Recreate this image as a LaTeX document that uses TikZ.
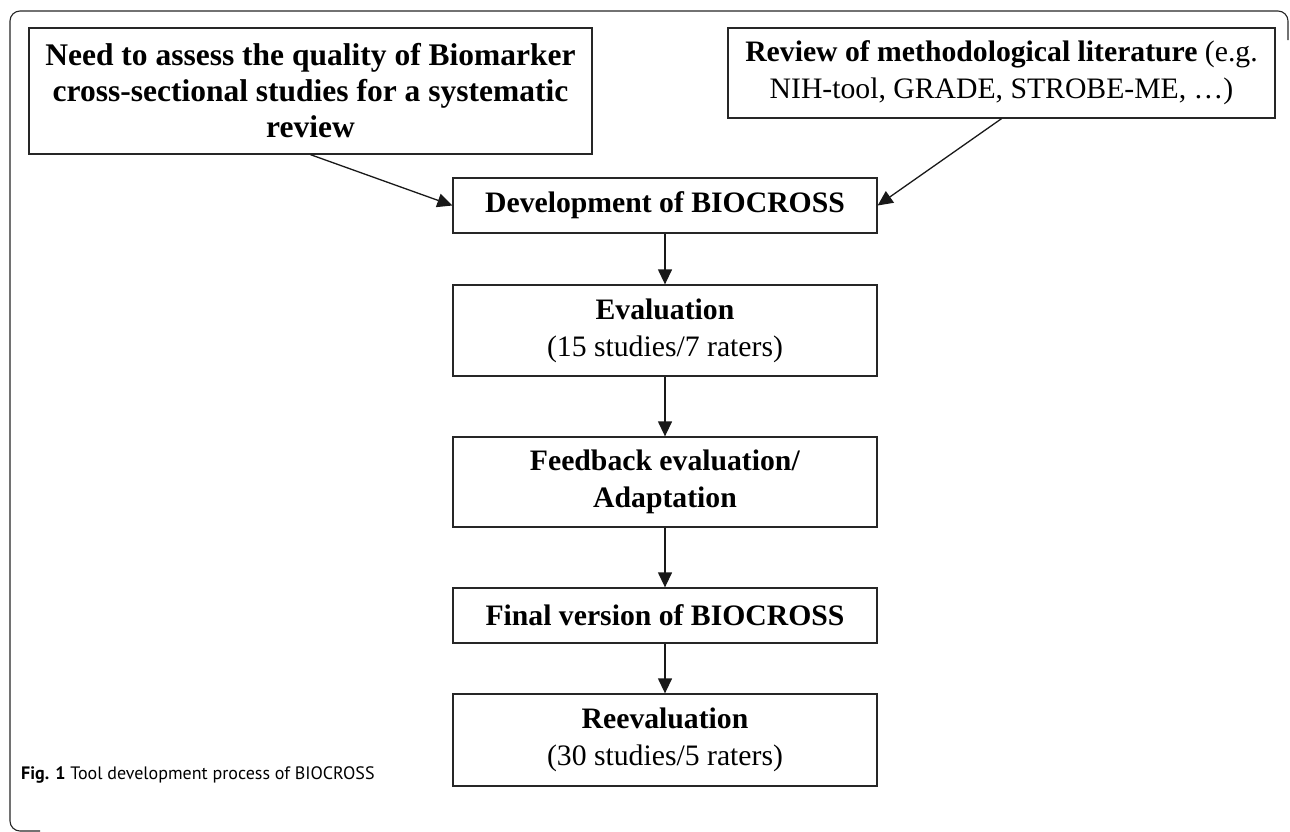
\documentclass[tikz,border=0pt]{standalone}
\usepackage{fontspec}
\setmainfont{Liberation Serif}
\newfontfamily\capfont{PT Sans}
\usetikzlibrary{arrows.meta}
\begin{document}
\begin{tikzpicture}[x=1pt,y=-1pt,
  box/.style={draw=black!85,line width=1.3pt,rectangle,inner sep=0pt,align=center,
    font=\fontsize{29.7}{37}\selectfont},
  conn/.style={draw=black!90,line width=1.3pt,-{Triangle[length=15pt,width=14pt]}},
  frame/.style={draw=black!85,line width=1.1pt,rounded corners=10pt}]
\useasboundingbox (0,0) rectangle (1290,831);
\draw[frame] (1288,40) -- (1288,11) -- (10,11) -- (10,831) -- (40,831);
\node[box,minimum width=563pt,minimum height=126pt,font=\fontsize{31.5}{36}\selectfont] (need) at (310.5,91)
  {\textbf{Need to assess the quality of Biomarker}\\ \textbf{cross-sectional studies for a systematic}\\ \textbf{review}};
\node[box,minimum width=547pt,minimum height=90pt] (rev) at (1001.5,73)
  {\textbf{Review of methodological literature} (e.g.\\ NIH-tool, GRADE, STROBE-ME, …)};
\node[box,minimum width=424pt,minimum height=55pt] (dev) at (665,205.5)
  {\textbf{Development of BIOCROSS}};
\node[box,minimum width=424pt,minimum height=91pt] (eval) at (665,330.5)
  {\textbf{Evaluation}\\ (15 studies/7 raters)};
\node[box,minimum width=424pt,minimum height=90pt] (feed) at (665,482)
  {\textbf{Feedback evaluation/}\\ \textbf{Adaptation}};
\node[box,minimum width=424pt,minimum height=55pt] (final) at (665,615.5)
  {\textbf{Final version of BIOCROSS}};
\node[box,minimum width=424pt,minimum height=92pt] (reeval) at (665,740)
  {\textbf{Reevaluation}\\ (30 studies/5 raters)};
\node[anchor=west,inner sep=0pt,font=\capfont\fontsize{18}{22}\selectfont] (cap) at (21,775)
  {\textbf{Fig. 1} Tool development process of BIOCROSS};
\draw[conn] (need.south) -- (dev.west);
\draw[conn] (rev.south) -- (dev.east);
\draw[conn] (dev) -- (eval);
\draw[conn] (eval) -- (feed);
\draw[conn] (feed) -- (final);
\draw[conn] (final) -- (reeval);
\end{tikzpicture}
\end{document}
